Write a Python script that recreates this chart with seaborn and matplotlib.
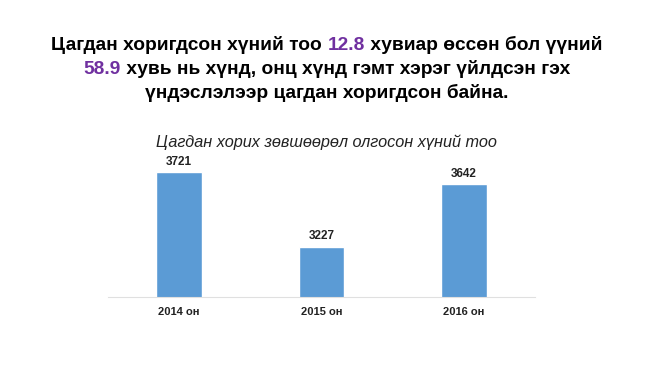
import matplotlib
matplotlib.use("Agg")
import matplotlib.pyplot as plt
import seaborn as sns
import pandas as pd

# chart data
years = ["2014 он", "2015 он", "2016 он"]
detained = [3721, 3227, 3642]

title_lines = [
    [("Цагдан хоригдсон хүний тоо ", "black"), ("12.8", "#7030a0"), (" хувиар өссөн бол үүний", "black")],
    [("58.9", "#7030a0"), (" хувь нь хүнд, онц хүнд гэмт хэрэг үйлдсэн гэх", "black")],
    [("үндэслэлээр цагдан хоригдсон байна.", "black")],
]
subtitle = "Цагдан хорих зөвшөөрөл олгосон хүний тоо"

sns.set_style("white")
plt.rcParams["font.family"] = ["Liberation Sans", "DejaVu Sans"]

df = pd.DataFrame({"year": years, "count": detained})

fig = plt.figure(figsize=(6.5, 3.65), dpi=100)
ax = fig.add_axes([0.166, 0.186, 0.657, 0.403])
sns.barplot(data=df, x="year", y="count", color="#5b9bd5", width=0.32,
            saturation=1, ax=ax)
ax.set_ylim(2890, 3870)
ax.set_xlim(-0.5, 2.5)

for i, v in enumerate(detained):
    ax.text(i, v + 30, str(v), ha="center", va="bottom", fontsize=8.5,
            fontweight="bold", color="#222222")

ax.set_xlabel("")
ax.set_ylabel("")
ax.set_yticks([])
ax.tick_params(axis="x", length=0, pad=7)
for lab in ax.get_xticklabels():
    lab.set_fontweight("bold")
    lab.set_fontsize(8)
    lab.set_color("#222222")
for s in ["top", "left", "right"]:
    ax.spines[s].set_visible(False)
ax.spines["bottom"].set_color("#e0e0e0")
ax.spines["bottom"].set_linewidth(0.8)

fig.text(0.502, 1 - 142 / 365, subtitle, ha="center", va="center",
         fontsize=11.7, style="italic", color="#222222")

# multicoloured title, each line centred
fig.canvas.draw()
renderer = fig.canvas.get_renderer()
ys = [45, 69, 93]
for segs, ypx in zip(title_lines, ys):
    texts = []
    x = 0.0
    for s, c in segs:
        t = fig.text(x, 1 - ypx / 365, s, ha="left", va="center", fontsize=13.8,
                     fontweight="bold", color=c)
        w = t.get_window_extent(renderer).width / fig.bbox.width
        texts.append((t, x))
        x += w
    start = 0.503 - x / 2
    for t, x0 in texts:
        t.set_x(start + x0)

fig.savefig("out.png", dpi=100, facecolor="white")
